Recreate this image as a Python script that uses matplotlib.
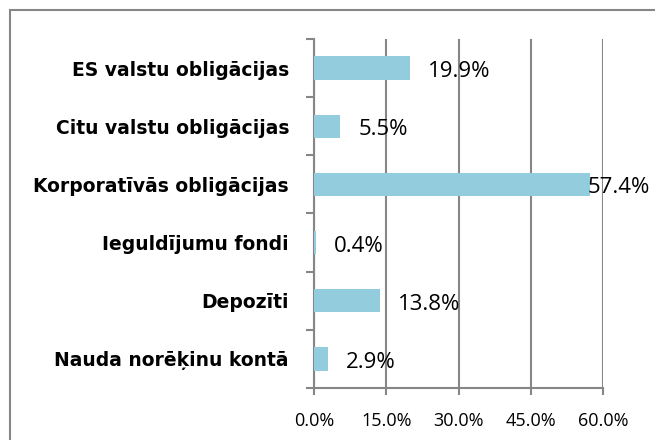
import matplotlib.pyplot as plt
from matplotlib.patches import Rectangle
from matplotlib.ticker import FuncFormatter

# categories from top to bottom
categories = ['ES valstu obligācijas', 'Citu valstu obligācijas', 'Korporatīvās obligācijas',
              'Ieguldījumu fondi', 'Depozīti', 'Nauda norēķinu kontā']
shares = [19.9, 5.5, 57.4, 0.4, 13.8, 2.9]
x_ticks = [0, 15, 30, 45, 60]

plt.rcParams['font.family'] = ['Open Sans', 'DejaVu Sans']

fig = plt.figure(figsize=(6.55, 4.4), dpi=100)
ax = fig.add_axes([314 / 655, 52 / 440, 289 / 655, 349 / 440])

# outer chart border (only top and left are visible in the crop)
fig.patches.append(Rectangle((9.5 / 655, -0.1), 1.2, (440 - 10.5) / 440 + 0.1,
                             transform=fig.transFigure, fill=False,
                             edgecolor='#868686', linewidth=1.5))

pos = list(range(len(categories)))[::-1]
ax.barh(pos, shares, height=0.40, color='#93CDDD', zorder=3)

for p, v in zip(pos, shares):
    ax.text(min(v + 3.7, 56.8), p - 0.06, f'{v:.1f}%', va='center', ha='left',
            fontsize=16, color='black', zorder=4)

ax.set_xlim(0, 60)
ax.set_ylim(-0.5, len(categories) - 0.5)
ax.set_xticks(x_ticks)
ax.xaxis.set_major_formatter(FuncFormatter(lambda v, _: f'{v:.1f}%'))
ax.set_yticks(pos)
ax.set_yticklabels(categories, fontsize=13.5, fontweight='bold',
                   family=['DejaVu Sans'])
ax.set_yticks([i - 0.5 for i in range(len(categories) + 1)], minor=True)

ax.grid(axis='x', color='#868686', linewidth=1.5, zorder=0)
ax.tick_params(axis='x', length=5, width=1.5, color='#868686', labelsize=13, pad=12)
ax.tick_params(axis='y', which='major', length=0, pad=18)
ax.tick_params(axis='y', which='minor', length=6, width=1.5, color='#868686')
for s in ['top', 'right']:
    ax.spines[s].set_visible(False)
for s in ['left', 'bottom']:
    ax.spines[s].set_color('#868686')
    ax.spines[s].set_linewidth(1.5)

fig.savefig('out.png', dpi=100)
